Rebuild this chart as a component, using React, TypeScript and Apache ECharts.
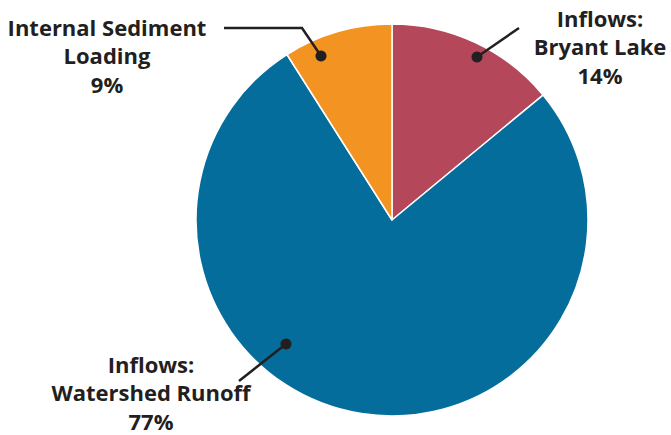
import React, { useEffect, useRef } from "react";
import * as echarts from "echarts";

const sourceNames = ["Inflows:\nBryant Lake", "Inflows:\nWatershed Runoff", "Internal Sediment\nLoading"];
const sourceShares = [14, 77, 9];
const sliceColors = ["#B5475B", "#056D9B", "#F39321"];

// label placement (pixels): text centre, leader line points (first point = dot)
const labelLayouts = [
  { x: 600, y: 46, line: [[477, 57], [519, 28]] },
  { x: 151, y: 392, line: [[286, 344], [239, 381]] },
  { x: 107, y: 55, line: [[321, 56], [302, 28], [224, 28]] },
];

export default function App() {
  const ref = useRef<HTMLDivElement>(null);
  useEffect(() => {
    if (!ref.current) return;
    const chart = echarts.init(ref.current, undefined, { renderer: "svg" });
    const ink = "#231F20";
    chart.setOption({
      animation: false,
      backgroundColor: "#ffffff",
      series: [
        {
          type: "pie",
          center: [392, 220],
          radius: 196,
          startAngle: 90,
          clockwise: true,
          silent: true,
          itemStyle: { borderColor: "#ffffff", borderWidth: 1.5 },
          data: sourceNames.map((n, i) => ({
            name: n,
            value: sourceShares[i],
            itemStyle: { color: sliceColors[i] },
          })),
          label: {
            show: true,
            position: "outside",
            color: ink,
            fontFamily: "Open Sans",
            fontWeight: "bold",
            fontSize: 22,
            lineHeight: 28.5,
            align: "center",
            formatter: (p: any) => `${p.name}\n${Math.round(p.percent)}%`,
          },
          labelLine: { show: false },
          labelLayout: (params: any) => {
            const l = labelLayouts[params.dataIndex];
            return { x: l.x, y: l.y, align: "center", verticalAlign: "middle" };
          },
        },
      ],
      graphic: [
        ...labelLayouts.map((l) => ({
          type: "polyline",
          shape: { points: l.line },
          style: { stroke: ink, lineWidth: 2.5, fill: null },
          z: 100,
        })),
        ...labelLayouts.map((l) => ({
          type: "circle",
          shape: { cx: l.line[0][0], cy: l.line[0][1], r: 5.5 },
          style: { fill: ink },
          z: 101,
        })),
      ],
    });
    return () => chart.dispose();
  }, []);
  return (
    <div
      ref={ref}
      style={{ position: "absolute", left: 0, top: 0, width: 671, height: 435 }}
    />
  );
}
